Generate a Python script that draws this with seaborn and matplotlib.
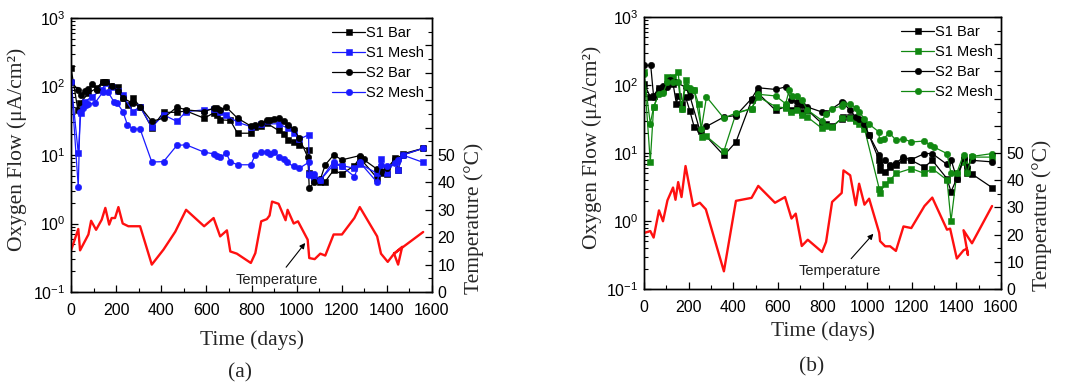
import matplotlib
matplotlib.use("Agg")
import matplotlib.pyplot as plt
from matplotlib.ticker import MultipleLocator, FixedLocator, NullFormatter, LogLocator
import pandas as pd
import seaborn as sns

# ---------------- panel (a): oxygen flow, blue mesh series ----------------
a_s1bar_day = [0, 30, 40, 77, 114, 140, 155, 178, 210, 229, 254, 274, 306, 358, 410, 469, 510, 590,
               632, 649, 661, 706, 738, 797, 817, 843, 868, 920, 945, 960, 987, 1012, 1053, 1056,
               1078, 1105, 1127, 1164, 1201, 1256, 1280, 1357, 1374, 1401, 1435, 1450, 1470, 1561]
a_s1bar_val = [185, 46, 57, 80, 95, 118, 118, 102, 98, 68, 54, 68, 51, 25, 42, 42, 44, 34.5,
               41, 38, 32.6, 32, 20.8, 20.8, 26, 26.5, 29, 22.8, 20, 16.6, 15.3, 13.8, 11.9, 5.4,
               4.3, 4.1, 4.1, 6, 5.3, 7, 9.1, 4.6, 5.4, 5.3, 9.1, 6.1, 10.4, 12.5]

a_s1mesh_day = [0, 32, 43, 62, 92, 136, 155, 180, 210, 229, 274, 306, 358, 410, 469, 510, 590, 632,
                661, 688, 738, 797, 843, 920, 960, 987, 1012, 1053, 1056, 1078, 1105, 1164, 1201,
                1256, 1280, 1357, 1374, 1401, 1435, 1450, 1470, 1561]
a_s1mesh_val = [118, 10.6, 41, 60, 71, 89, 112, 100, 85, 75, 43, 51, 25.5, 38.6, 31, 43, 45.6, 46.7,
                43, 38.6, 30, 26, 28.5, 28.5, 24.7, 21.3, 17, 19.7, 5.3, 4.3, 4.3, 7.2, 7,
                6.4, 7.4, 5.4, 8.7, 5.4, 8.0, 6.1, 10, 7.8]

a_s2bar_day = [0, 32, 43, 62, 77, 92, 114, 140, 155, 180, 210, 229, 274, 306, 358, 410, 469, 510,
               590, 632, 649, 661, 688, 738, 797, 817, 843, 868, 883, 898, 920, 945, 960, 987,
               1012, 1050, 1056, 1078, 1105, 1127, 1164, 1201, 1280, 1297, 1357, 1374, 1401,
               1435, 1470, 1561]
a_s2bar_val = [118, 89, 76, 85, 91, 109, 89, 118, 118, 102, 85, 68, 57, 51, 31, 34.5, 50, 45.6,
               43, 48, 48, 45.6, 50, 34.5, 26.5, 27, 29, 32, 32.6, 33, 35, 31, 27.5, 24,
               17.6, 9.2, 3.3, 4.0, 4.4, 7.2, 10, 8.5, 9.8, 8.6, 6.2, 5.8, 6.4,
               8.7, 10, 12.5]

a_s2mesh_day = [0, 32, 40, 52, 65, 75, 105, 140, 165, 190, 205, 230, 250, 275, 306, 358, 410, 469,
                510, 590, 632, 649, 661, 688, 706, 738, 797, 817, 843, 868, 883, 898, 920, 942,
                957, 987, 1012, 1053, 1056, 1078, 1105, 1164, 1201, 1256, 1280, 1357, 1374, 1401,
                1435, 1450, 1470, 1561]
a_s2mesh_val = [118, 3.4, 42, 48, 54, 55, 57, 82, 82, 60, 57, 43, 27.5, 24, 24, 7.9, 8.0, 13.8,
                14.1, 11, 10.4, 9.8, 9.3, 10.6, 8.0, 7.2, 7.2, 10.1, 11.2, 11, 10.4, 11.2, 9.5, 8.8,
                7.8, 6.8, 6.4, 7.8, 5.1, 5.3, 4.3, 8.0, 6.8, 4.85, 7.8, 4.0, 7.2, 6.8,
                7.6, 8.5, 10, 12.5]

a_temp_day = [0, 32, 40, 77, 89, 111, 136, 152, 169, 180, 195, 210, 229, 254, 306, 358, 410, 462,
              510, 590, 632, 661, 691, 706, 735, 797, 817, 843, 868, 880, 891, 920, 951, 960, 987,
              1006, 1049, 1056, 1080, 1105, 1127, 1164, 1201, 1256, 1280, 1357, 1374, 1404, 1432,
              1450, 1468, 1432, 1561]
a_temp_val = [15.2, 23, 15.2, 21, 26, 22.7, 26.4, 30.7, 24.6, 27, 27, 31, 25, 24, 24, 10, 15.5, 22,
              30, 24, 27, 20.3, 22.5, 14.8, 14, 10.6, 14.2, 25.8, 26.6, 27.9, 33, 32.2, 26.2, 30, 25,
              25.8, 19.1, 12.4, 12, 14, 13.3, 21, 21, 27, 31, 20.3, 14, 11, 14,
              10, 16.5, 14, 21.9]

# ---------------- panel (b): oxygen flow, green mesh series ----------------
b_s1bar_day = [0, 28, 43, 67, 85, 105, 130, 145, 153, 168, 186, 205, 225, 257, 358, 412, 482, 512,
               590, 635, 659, 684, 707, 732, 798, 816, 843, 886, 894, 924, 949, 964, 988, 1009,
               1054, 1058, 1081, 1103, 1129, 1163, 1198, 1257, 1292, 1358, 1376, 1402, 1432,
               1447, 1470, 1560]
b_s1bar_val = [105, 67, 70, 91, 91, 105, 105, 53, 70, 53, 67, 42, 24, 21, 9.2, 14.5, 59.6, 75,
               42.4, 48, 42.4, 46, 40, 43, 27, 26.5, 24.6, 32, 34, 34, 31, 29.5, 25.5, 18.2,
               7.8, 5.6, 5.3, 6.2, 6.6, 8, 7.8, 6.2, 7.8, 4.2, 2.7, 4.2, 7.8,
               5.0, 4.9, 3.1]

b_s1mesh_day = [0, 28, 43, 67, 85, 105, 130, 153, 168, 186, 205, 225, 245, 262, 280, 358, 412, 482,
                512, 590, 635, 659, 684, 707, 732, 798, 816, 843, 886, 924, 949, 964, 988, 1054,
                1058, 1081, 1103, 1129, 1198, 1257, 1292, 1358, 1376, 1402, 1432, 1447, 1470, 1560]
b_s1mesh_val = [155, 7.4, 47.4, 79, 83, 131, 131, 155, 45, 120, 85, 83, 52, 17.2, 17.6, 10.7, 38, 45,
                67, 48, 46, 40, 43, 36.5, 33.8, 23, 24.6, 24, 32.5, 32.5, 29.5, 27, 22.8, 3.0,
                2.6, 3.5, 4.0, 5.0, 5.9, 5.0, 5.9, 4.0, 1.0, 5.0, 7.4, 5.9, 8.7, 8.7]

b_s2bar_day = [0, 30, 43, 67, 85, 105, 115, 140, 186, 205, 250, 280, 358, 412, 482, 512, 590, 635,
               659, 684, 707, 732, 798, 816, 886, 894, 924, 949, 964, 988, 1009, 1054, 1058, 1081,
               1103, 1129, 1163, 1198, 1257, 1292, 1358, 1376, 1402, 1432, 1447, 1470, 1560]
b_s2bar_val = [194, 194, 67, 88, 98, 93, 117, 111, 93, 70, 21.5, 24.6, 33.8, 35.5, 63, 91, 86, 94,
               61, 57, 50, 47.4, 40, 39, 56, 54, 42.4, 33.8, 32, 26.5, 18.2, 9.5, 6.6, 7.8,
               6.6, 7.1, 8.7, 8, 9.8, 9.8, 6.8, 8, 4.2, 8.5, 6.2, 7.8, 7.4]

b_s2mesh_day = [0, 28, 43, 67, 85, 105, 130, 153, 168, 186, 205, 225, 257, 280, 358, 412, 482, 512,
                590, 635, 650, 665, 684, 707, 732, 798, 816, 843, 886, 894, 924, 949, 964, 988,
                1009, 1052, 1056, 1076, 1099, 1129, 1163, 1198, 1257, 1282, 1300, 1358, 1376, 1402,
                1432, 1447, 1470, 1560]
b_s2mesh_val = [145, 27, 47.4, 73, 76, 110, 110, 110, 45, 98, 91, 83, 22.8, 67, 32.5, 38.8, 45, 73,
                69, 53, 83, 70, 68, 59.6, 43, 30, 38, 45, 49, 53, 53, 46, 40, 32,
                26.5, 20.5, 15.4, 16.2, 20, 15.4, 16.2, 14.5, 15, 13, 12.2, 9.8, 5.1, 5.1,
                9.5, 5.0, 8.9, 9.8]

b_temp_day = [0, 28, 43, 67, 85, 105, 130, 141, 153, 168, 186, 220, 250, 277, 358, 412, 482, 512,
              587, 632, 661, 680, 707, 734, 798, 816, 843, 886, 894, 924, 949, 964, 988, 1009, 1054,
              1058, 1081, 1103, 1129, 1163, 1198, 1257, 1292, 1358, 1372, 1402, 1432, 1447, 1452,
              1432, 1470, 1560]
b_temp_val = [20.6, 21.3, 18.9, 28.9, 24.9, 32.6, 37.3, 32.8, 39.3, 33.8, 45.2, 30.5, 31.7, 29.3,
              6.5, 32.4, 33.5, 37.9, 31.7, 33.8, 25.9, 27.7, 15.8, 18.1, 13.6, 17.3, 32, 35.3, 43.6,
              41.8, 30.8, 38.7, 31, 33.2, 20.7, 17.6, 15.7, 15.7, 14, 23, 22.4, 30.5, 33.6, 21.8,
              22.2, 11.2, 14.2, 14.8, 12.5, 21.6, 16.8, 30.5]

series_labels = ["S1 Bar", "S1 Mesh", "S2 Bar", "S2 Mesh"]
x_ticks = [0, 200, 400, 600, 800, 1000, 1200, 1400, 1600]
flow_ticks = [0.1, 1, 10, 100, 1000]
flow_tick_labels = ["$10^{-1}$", "$10^{0}$", "$10^{1}$", "$10^{2}$", "$10^{3}$"]
temp_ticks = list(range(0, 101, 10))
temp_tick_labels = ["0", "10", "20", "30", "40", "50", "", "", "", "", ""]

RED = "#ff1010"
BLUE = "#1a1aff"
GREEN = "#118811"
BLACK = "#000000"

sns.set_style("ticks")
plt.rcParams.update({
    "font.family": ["Liberation Sans", "DejaVu Sans"],
    "mathtext.fontset": "custom",
    "mathtext.rm": "Liberation Sans",
    "mathtext.it": "Liberation Sans:italic",
    "mathtext.bf": "Liberation Sans:bold",
    "mathtext.default": "regular",
    "axes.linewidth": 1.0,
    "axes.edgecolor": "black",
})

SERIF = ["Liberation Serif", "DejaVu Serif"]

fig = plt.figure(figsize=(10.7, 3.88), dpi=100)
ax_a = fig.add_axes([0.0664, 0.2474, 0.3373, 0.7062])
ax_b = fig.add_axes([0.6019, 0.2552, 0.3336, 0.7010])


def draw_flow(ax, day, val, marker, color, label, ms):
    df = pd.DataFrame({"day": day, "flow": val})
    sns.lineplot(data=df, x="day", y="flow", ax=ax, sort=False, estimator=None,
                 color=color, marker=marker, markersize=ms, markeredgecolor=color,
                 markeredgewidth=0.4, linewidth=0.9, label=label)


def style_panel(ax, temp_day, temp_val, note_xy, note_text_xy, ylab_x, rlab_x, xlab_y):
    ax.set_yscale("log")
    ax.set_xlim(0, 1600)
    ax.set_ylim(0.1, 1000)
    ax.set_xticks(x_ticks)
    ax.set_xticklabels([str(t) for t in x_ticks])
    ax.xaxis.set_minor_locator(MultipleLocator(100))
    ax.yaxis.set_major_locator(FixedLocator(flow_ticks))
    ax.set_yticklabels(flow_tick_labels)
    ax.yaxis.set_minor_locator(LogLocator(base=10, subs=range(2, 10)))
    ax.yaxis.set_minor_formatter(NullFormatter())
    ax.tick_params(which="both", direction="in", top=False, right=False,
                   labelsize=11.5, colors="black", pad=4)
    ax.tick_params(axis="x", which="both", pad=8)
    ax.tick_params(which="major", length=5, width=0.9)
    ax.tick_params(which="minor", length=3, width=0.8)
    ax.set_xlabel("Time (days)", family=SERIF, fontsize=15.5)
    ax.set_ylabel("Oxygen Flow (\u03bcA/cm\u00b2)", family=SERIF, fontsize=15.5)
    ax.yaxis.set_label_coords(ylab_x, 0.52)
    ax.xaxis.set_label_coords(0.5, xlab_y)
    for s in ax.spines.values():
        s.set_visible(True)
        s.set_color("black")

    leg = ax.legend(loc="upper right", frameon=False, fontsize=10.5, handlelength=2.3,
                    handletextpad=0.05, labelspacing=0.42, borderaxespad=0.35,
                    borderpad=0.2)
    for t in leg.get_texts():
        t.set_color("black")

    ax2 = ax.twinx()
    tdf = pd.DataFrame({"day": temp_day, "temp": temp_val})
    sns.lineplot(data=tdf, x="day", y="temp", ax=ax2, sort=False, estimator=None,
                 color=RED, linewidth=1.7)
    ax2.set_ylim(0, 100)
    ax2.set_xlim(0, 1600)
    ax2.yaxis.set_major_locator(FixedLocator(temp_ticks))
    ax2.set_yticklabels(temp_tick_labels)
    ax2.yaxis.set_minor_locator(MultipleLocator(5))
    ax2.tick_params(which="both", direction="in", labelsize=11.5, colors="black", pad=4)
    ax2.tick_params(which="major", length=5, width=0.9)
    ax2.tick_params(which="minor", length=3, width=0.8)
    ax2.set_ylabel("Temperature (\u00b0C)", family=SERIF, fontsize=15.5)
    ax2.yaxis.set_label_coords(rlab_x, 0.27)
    ax2.set_xlabel("")
    ax2.annotate("Temperature", xy=note_xy, xytext=note_text_xy, ha="center", va="center",
                 fontsize=10.5, color="#222222",
                 arrowprops=dict(arrowstyle="-|>", color="black", lw=0.8,
                                 mutation_scale=8, shrinkA=2, shrinkB=0))
    return ax2


draw_flow(ax_a, a_s1bar_day, a_s1bar_val, "s", BLACK, series_labels[0], 4.1)
draw_flow(ax_a, a_s1mesh_day, a_s1mesh_val, "s", BLUE, series_labels[1], 4.1)
draw_flow(ax_a, a_s2bar_day, a_s2bar_val, "o", BLACK, series_labels[2], 4.6)
draw_flow(ax_a, a_s2mesh_day, a_s2mesh_val, "o", BLUE, series_labels[3], 4.6)
style_panel(ax_a, a_temp_day, a_temp_val, (1038, 17.9), (910, 4.5), -0.122, 1.09, -0.14)

draw_flow(ax_b, b_s1bar_day, b_s1bar_val, "s", BLACK, series_labels[0], 4.1)
draw_flow(ax_b, b_s1mesh_day, b_s1mesh_val, "s", GREEN, series_labels[1], 4.1)
draw_flow(ax_b, b_s2bar_day, b_s2bar_val, "o", BLACK, series_labels[2], 4.6)
draw_flow(ax_b, b_s2mesh_day, b_s2mesh_val, "o", GREEN, series_labels[3], 4.6)
style_panel(ax_b, b_temp_day, b_temp_val, (1028, 20.3), (879, 6.6), -0.118, 1.087, -0.12)

fig.text(240 / 1070, 1 - 373 / 388, "(a)", family=SERIF, fontsize=15.5, ha="center", va="center")
fig.text(812 / 1070, 1 - 367 / 388, "(b)", family=SERIF, fontsize=15.5, ha="center", va="center")

fig.savefig("out.png", dpi=100, facecolor="white")
